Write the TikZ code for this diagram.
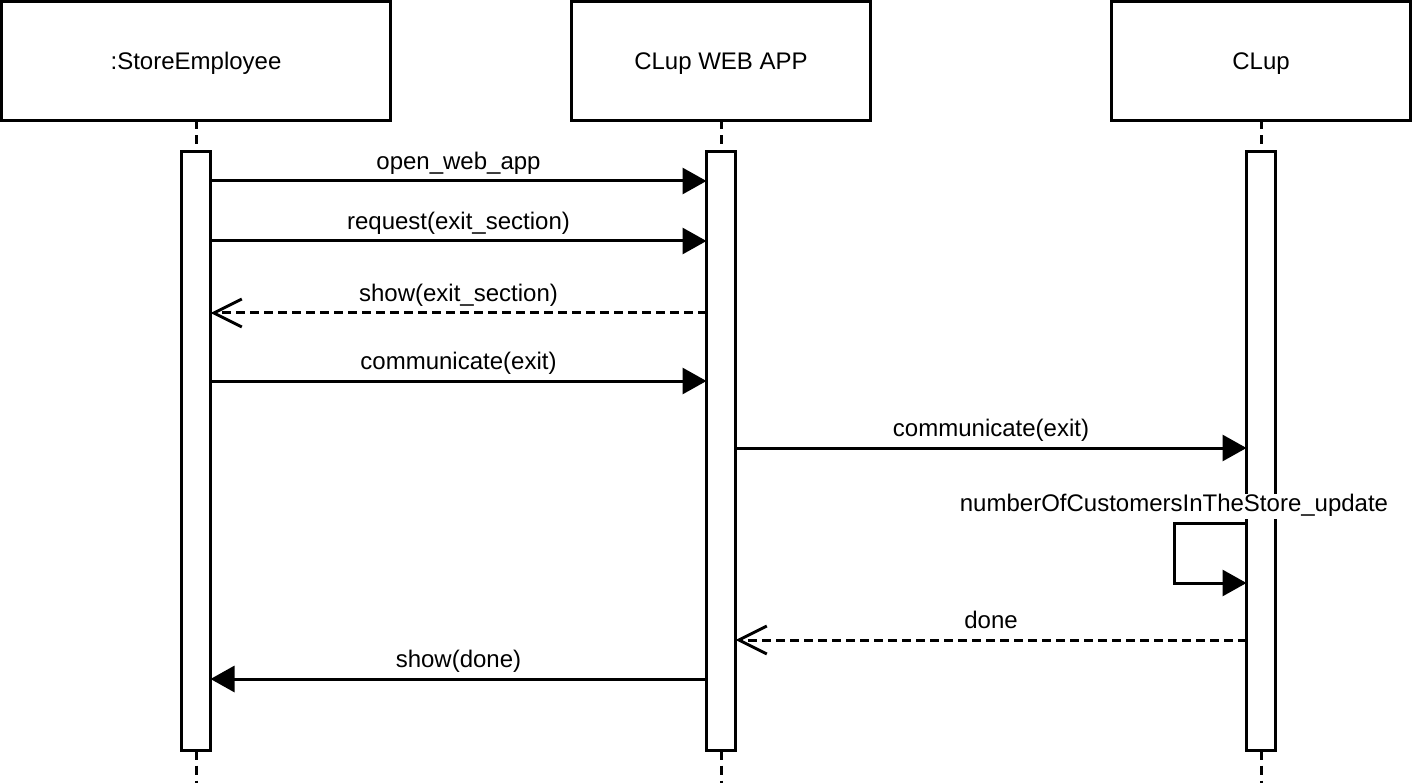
\documentclass[tikz,border=0pt]{standalone}
\usepackage{fontspec}
\setmainfont{Liberation Sans}
\usetikzlibrary{arrows.meta}
\begin{document}
\begin{tikzpicture}[x=1pt,y=-1pt,line width=3pt,
  every node/.style={font=\fontsize{24}{28}\selectfont},
  headbox/.style={draw,fill=white,inner sep=0pt,outer sep=0pt,minimum height=119pt,text height=17pt,text depth=0pt},
  actbar/.style={draw,fill=white,inner sep=0pt,outer sep=0pt,minimum width=29pt,minimum height=599pt},
  lifeline/.style={dash pattern=on 9pt off 6pt},
  msg/.style={-{Triangle[length=24pt,width=26pt]}},
  reply/.style={dash pattern=on 9pt off 5pt,-{Straight Barb[length=28pt,width=28pt]}},
  lbl/.style={midway,anchor=base,yshift=11.5pt,inner sep=0pt}]
\useasboundingbox (0,0) rectangle (1413,783);
% heads
\node[headbox,minimum width=389pt] (h1) at (196,61) {:StoreEmployee};
\node[headbox,minimum width=299pt] (h2) at (721,61) {CLup WEB APP};
\node[headbox,minimum width=299pt] (h3) at (1261,61) {CLup};
% lifelines
\coordinate (e1) at (196,783);
\coordinate (e2) at (721,783);
\coordinate (e3) at (1261,783);
\draw[lifeline] (h1.south) -- (e1);
\draw[lifeline] (h2.south) -- (e2);
\draw[lifeline] (h3.south) -- (e3);
% activation bars
\node[actbar] (a1) at (196,451) {};
\node[actbar] (a2) at (721,451) {};
\node[actbar] (a3) at (1261,451) {};
% messages
\draw[msg] (a1.east |- 0,181) -- (a2.west |- 0,181) node[lbl] {open\_web\_app};
\draw[msg] (a1.east |- 0,241) -- (a2.west |- 0,241) node[lbl] {request(exit\_section)};
\draw[reply] (a2.west |- 0,313) -- (a1.east |- 0,313) node[lbl] {show(exit\_section)};
\draw[msg] (a1.east |- 0,381) -- (a2.west |- 0,381) node[lbl] {communicate(exit)};
\draw[msg] (a2.east |- 0,448) -- (a3.west |- 0,448) node[lbl] {communicate(exit)};
\coordinate (s1) at (1174,523);
\coordinate (s2) at (1174,583);
\draw[msg] (a3.west |- s1) -- (s1) -- (s2) -- (a3.west |- s2);
\node[anchor=base,fill=white,inner sep=0pt,text height=18pt,text depth=7pt] (selflbl) at (1174,511.5) {numberOfCustomersInTheStore\_update};
\draw[reply] (a3.west |- 0,640) -- (a2.east |- 0,640) node[lbl] {done};
\draw[msg] (a2.west |- 0,679) -- (a1.east |- 0,679) node[lbl] {show(done)};
\end{tikzpicture}
\end{document}
